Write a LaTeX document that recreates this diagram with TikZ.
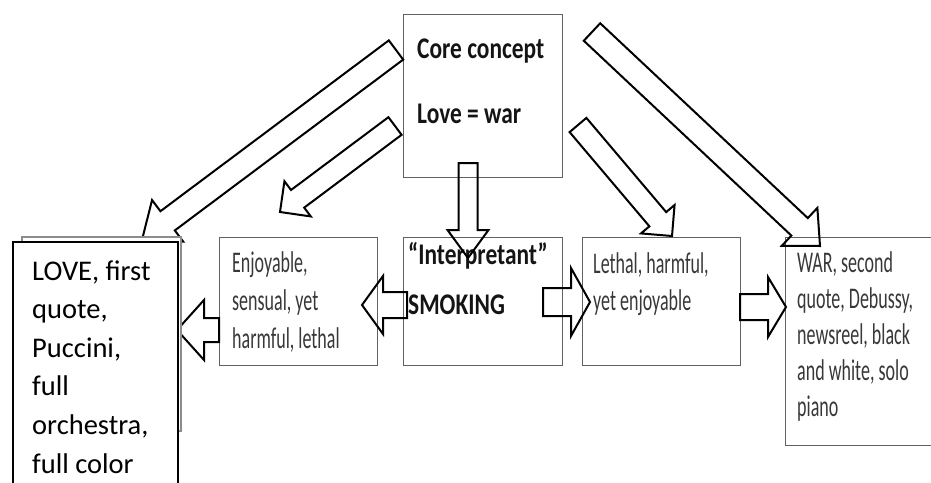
\documentclass[tikz,border=0pt]{standalone}
\usepackage{fontspec}
\setmainfont{Carlito}
\usepackage{graphicx}
\usetikzlibrary{calc}
\tikzset{
  sbox/.style={draw=black!62, line width=1.4pt, inner sep=0pt, anchor=north west},
  frontbox/.style={draw=black, fill=white, line width=1.5pt, inner sep=0pt, anchor=north west},
  backbox/.style={draw=black!45, fill=white, line width=2pt, inner sep=0pt, anchor=north west},
  barrowline/.style={draw=black, line width=2pt, line join=miter, miter limit=6},
  txt/.style={inner sep=0pt, anchor=base west, text=black!78},
  btxt/.style={inner sep=0pt, anchor=base west, text=black!92},
}
% scale, font size, baselineskip, lines
\newcommand\condtab[4]{{\fontsize{#2}{#3}\selectfont\scalebox{#1}[1]{\begin{tabular}[t]{@{}l@{}}#4\end{tabular}}}}
% tail, tip, shaft half width, head half width, head length
\newcommand\blockarrow[5]{%
  \coordinate (ba-h) at ($(#2)!#5!(#1)$);
  \draw[barrowline] ($(#1)!#3!90:(#2)$) -- ($(ba-h)!#3!-90:(#1)$) -- ($(ba-h)!#4!-90:(#1)$) -- (#2)
    -- ($(ba-h)!#4!90:(#1)$) -- ($(ba-h)!#3!90:(#1)$) -- ($(#1)!#3!-90:(#2)$) -- cycle;}
\begin{document}
\begin{tikzpicture}[x=1pt,y=-1pt]
\useasboundingbox (0,0) rectangle (931,482);
\clip (0,0) rectangle (931,482);
% boxes
\node[sbox, minimum width=159pt, minimum height=163pt] (core) at (403,14) {};
\node[sbox, minimum width=158pt, minimum height=128pt] (enj) at (219,237) {};
\node[sbox, minimum width=159pt, minimum height=128pt] (interp) at (403,237) {};
\node[sbox, minimum width=158pt, minimum height=128pt] (leth) at (582,237) {};
\node[sbox, minimum width=170pt, minimum height=208pt] (war) at (785,237) {};
% texts
\node[btxt] (coret) at (417,58) {\condtab{0.78}{30}{65}{\bfseries Core concept\\\bfseries Love = war}};
\node[btxt] (interpt) at (408,264) {\condtab{0.78}{30}{50}{\bfseries “Interpretant”\\\bfseries SMOKING}};
\node[txt] (enjt) at (232,272) {\condtab{0.6}{30}{38}{Enjoyable,\\sensual, yet\\harmful, lethal}};
\node[txt] (letht) at (593,273) {\condtab{0.6}{30}{37}{Lethal, harmful,\\yet enjoyable}};
\node[txt] (wart) at (797,272) {\condtab{0.6}{30}{36}{WAR, second\\quote, Debussy,\\newsreel, black\\and white, solo\\piano}};
% arrow end points
\coordinate (aT) at (396,50);  \coordinate (aP) at (142,240);
\coordinate (bT) at (395,126); \coordinate (bP) at (280,212);
\coordinate (cT) at (578,125); \coordinate (cP) at (672,236);
\coordinate (dT) at (592,32);  \coordinate (dP) at (820,246);
\coordinate (vT) at (468,163); \coordinate (vP) at (468,258);
\coordinate (eT) at (407,305); \coordinate (eP) at (362,305);
\coordinate (fT) at (219,330); \coordinate (fP) at (177,330);
\coordinate (gT) at (543,302); \coordinate (gP) at (590,302);
\coordinate (hT) at (740,307); \coordinate (hP) at (786,307);
\blockarrow{aT}{aP}{12pt}{26pt}{32pt}
\blockarrow{bT}{bP}{11pt}{22pt}{22pt}
\blockarrow{cT}{cP}{11pt}{22pt}{22pt}
\blockarrow{dT}{dP}{12pt}{26pt}{28pt}
\blockarrow{vT}{vP}{9.5pt}{20.5pt}{28pt}
\blockarrow{eT}{eP}{13pt}{29pt}{21pt}
\blockarrow{fT}{fP}{12pt}{30pt}{27pt}
\blockarrow{gT}{gP}{14pt}{34pt}{19pt}
\blockarrow{hT}{hP}{13pt}{30pt}{18pt}
% LOVE boxes on top
\node[backbox, minimum width=159pt, minimum height=194pt] (loveback) at (21,236) {};
\node[frontbox, minimum width=165pt, minimum height=260pt] (love) at (12,241) {};
\node[inner sep=0pt, anchor=base west, text=black] (lovet) at (32,280) {{\fontsize{28.5}{38.6}\selectfont\begin{tabular}[t]{@{}l@{}}LOVE, first\\quote,\\Puccini,\\full\\orchestra,\\full color\end{tabular}}};
\end{tikzpicture}
\end{document}
